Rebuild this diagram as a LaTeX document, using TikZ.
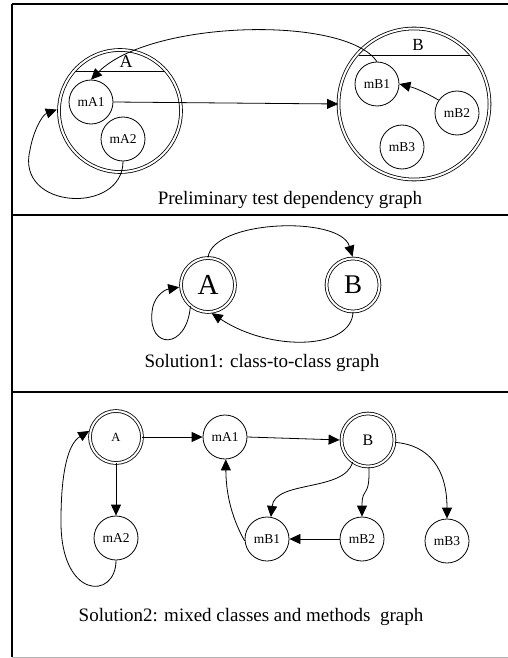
\documentclass[tikz,border=0pt]{standalone}
\usepackage{fontspec}
\setmainfont{Liberation Serif}
\usetikzlibrary{arrows.meta}

\begin{document}
\begin{tikzpicture}[x=1pt,y=-1pt,line width=0.8pt,
   meth/.style={draw,circle,inner sep=0pt,minimum size=44pt,font=\fontsize{13.5}{15}\selectfont},
   cls/.style={draw,circle,double,double distance=2pt,inner sep=0pt},
   arr/.style={-{Triangle[length=11pt,width=10pt]}},
   capt/.style={font=\fontsize{19}{22}\selectfont}]
     \useasboundingbox (0,0) rectangle (508,658);
     % frame
     \draw[line width=1.2pt] (12,4) -- (508,4);
     \draw[line width=1.2pt] (12,4) -- (12,657);
     \draw[line width=1.2pt] (12,215) -- (508,215);
     \draw[line width=1.2pt] (12,392) -- (508,392);
     \draw[gray!60] (12,657) -- (508,657);

     % preliminary graph
     \node[cls,minimum size=122pt] (A1) at (120,111) {};
     \node[cls,minimum size=151pt] (B1) at (414,104) {};
     \draw (76,71) -- (164,71);
     \draw (358.5,55) -- (469.5,55);
     \node[font=\fontsize{18}{20}\selectfont] (labA) at (126,62) {A};
     \node[font=\fontsize{17}{20}\selectfont] (labB) at (418,45) {B};
     \node[meth] (mA1) at (91,102) {mA1};
     \node[meth] (mA2) at (123,139) {mA2};
     \node[meth] (mB1) at (377,84) {mB1};
     \node[meth] (mB2) at (457,113) {mB2};
     \node[meth] (mB3) at (402,147) {mB3};
     \draw[arr] (mA1.east) -- (B1.west);
     \draw[arr] (mB2.145) to[bend right=8] (mB1.east);
     \draw[arr] (mB1.north) .. controls (345,15) and (150,20) .. (mA1.north);
     \draw[arr,shorten >=2pt] (mA2.south) .. controls (123,215) and (15,210) .. (30,150)
        .. controls (33,132) and (42,115) .. (A1.178);
     \node[capt] (cap1) at (290,200) {Preliminary test dependency graph};

     % solution 1
     \node[cls,minimum size=54pt,font=\fontsize{29}{30}\selectfont] (A2) at (208,285) {A};
     \node[cls,minimum size=53pt,font=\fontsize{27}{30}\selectfont] (B2) at (353,285) {B};
     \draw[arr,shorten >=1.5pt] (A2.north) .. controls (212,220) and (340,215) .. (B2.north);
     \draw[arr,shorten >=1.5pt] (B2.south) .. controls (352,350) and (270,352) .. (A2.-85);
     \draw[arr,shorten >=1.5pt] (A2.-130) .. controls (187,350) and (148,350) .. (152,312)
        .. controls (153,298) and (163,290) .. (A2.184);
     \node[capt] (cap2) at (262,363) {Solution1: class-to-class graph};

     % solution 2
     \node[cls,minimum size=52pt,font=\fontsize{12.5}{14}\selectfont] (A3) at (116,437) {A};
     \node[cls,minimum size=53pt,font=\fontsize{16}{18}\selectfont] (B3) at (368,440) {B};
     \node[meth] (mA13) at (225,437) {mA1};
     \node[meth] (mA23) at (116,538) {mA2};
     \node[meth] (mB13) at (267,539) {mB1};
     \node[meth] (mB23) at (362,539) {mB2};
     \node[meth] (mB33) at (447,541) {mB3};
     \draw[arr] (A3.east) -- (mA13.west);
     \draw[arr,shorten >=1.5pt] (mA13.east) -- (B3.west);
     \draw[arr] (A3.south) -- (mA23.north);
     \draw[arr,shorten >=1.5pt] (mA23.south) .. controls (116,600) and (60,600) .. (61,520)
        .. controls (61,480) and (66,445) .. (A3.165);
     \draw[arr] (mB13.185) .. controls (230,515) and (226,490) .. (mA13.-88);
     \draw[arr] (B3.-125) .. controls (345,492) and (275,480) .. (mB13.80);
     \draw[arr] (B3.-88) .. controls (370,500) and (362,485) .. (mB23.north);
     \draw[arr] (B3.-5) .. controls (430,445) and (447,470) .. (mB33.north);
     \draw[arr] (mB23.west) -- (mB13.east);
     \node[capt] (cap3) at (251,617) {Solution2: mixed classes and methods\ \ graph};
 \end{tikzpicture}
\end{document}
